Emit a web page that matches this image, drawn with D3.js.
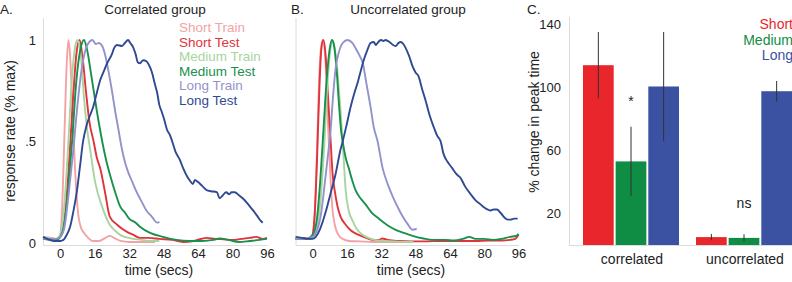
<!DOCTYPE html>
<html>
<head>
<meta charset="utf-8">
<script src="https://cdn.jsdelivr.net/npm/d3@7"></script>
<style>
  html, body { margin: 0; padding: 0; background: #fff; }
  svg text { font-family: "Liberation Sans", Arial, sans-serif; fill: #222; }
</style>
</head>
<body>
<svg id="fig" width="792" height="282"></svg>
<script>
// ---- data: time (secs), normalised response rate
const timeTicks = [0, 16, 32, 48, 64, 80, 96];
const seriesNames = ["Short Train", "Short Test", "Medium Train", "Medium Test", "Long Train", "Long Test"];
const seriesColors = ["#f2a3a3", "#e0333b", "#a9d4a0", "#19904c", "#9393cc", "#2f4a93"];

// Correlated group
const corrShortTrain = [[-8,.03],[-4,.025],[-1,.02],[0,.04],[1,.2],[2,.55],[3,.88],[3.8,1],[4.6,.92],[5.5,.7],[6.5,.45],[7.5,.25],[8.5,.13],[9.5,.08],[11,.05],[13,.025],[15,.01],[18,.01],[21,.025],[23,.035],[25,.025],[28,.01],[32,.005],[38,.005],[44,.005]];
const corrShortTest = [[-8,.02],[-2,.015],[0,.03],[2,.12],[4,.38],[6,.72],[7.5,.93],[9,1],[10.5,.9],[12,.74],[13.5,.6],[15.5,.5],[17,.42],[18.5,.37],[20.8,.25],[23,.13],[26.4,.09],[31,.055],[34,.04],[37,.025],[41,.025],[46,.02],[52,.015],[57,.005],[62,.01],[67.8,.025],[72,.02],[76,.018],[80,.015],[84,.02],[88,.025],[91,.03],[94,.02],[96,.025]];
const corrMediumTrain = [[-8,.03],[-2,.02],[0,.04],[2,.2],[3.8,.5],[5.5,.82],[7,.97],[8,1],[9.5,.93],[11,.72],[12.5,.56],[13.9,.46],[16.2,.3],[19.4,.18],[23,.09],[25.5,.06],[27.8,.04],[30,.03],[33.8,.02],[38,.015],[42,.01],[46,.01]];
const corrMediumTest = [[-8,.02],[-2,.015],[0,.03],[2,.1],[4,.3],[5.5,.5],[7.5,.8],[9.5,.96],[11,1],[12.5,.95],[14.5,.82],[17,.65],[19.5,.5],[21.5,.4],[23,.34],[25.5,.25],[27.8,.18],[30,.15],[32,.12],[35,.1],[37,.08],[41.7,.05],[47.7,.03],[54,.015],[60,.01],[66,.01],[71,.015],[74,.022],[78,.015],[83,.005],[88,.01],[92.6,.015],[96,.02]];
const corrLongTrain = [[-8,.02],[-2,.02],[0,.03],[2,.08],[4,.25],[6,.45],[8,.68],[10,.86],[12,.96],[13.5,.99],[15,1],[16.5,.98],[18,.985],[19.5,.97],[21,.92],[22.5,.84],[24,.75],[25.5,.65],[27,.56],[28.5,.47],[30,.4],[31.5,.35],[33.5,.3],[35.5,.25],[37.5,.21],[40,.16],[42.5,.13],[45,.1],[46,.105]];
const corrLongTest = [[-8,.03],[-6,.02],[-3,.01],[0,.01],[1.5,.015],[3,.04],[4.6,.08],[6,.15],[7.8,.26],[9.2,.38],[10.6,.5],[12,.57],[13.5,.62],[15.3,.67],[17,.74],[18.5,.8],[20,.84],[22,.89],[24,.93],[25,.96],[26.3,.975],[28.7,.97],[30,.985],[31.5,1],[32.5,.985],[33.8,.965],[35,.93],[36,.89],[37,.885],[38.5,.9],[40,.895],[41,.88],[42.6,.84],[44,.78],[45,.74],[46,.68],[47,.65],[48.5,.6],[49.5,.56],[51,.53],[52,.5],[53.5,.45],[55.5,.41],[57,.37],[58.8,.33],[60,.31],[61.6,.29],[62.5,.31],[64,.3],[66,.28],[68,.26],[70,.255],[72.7,.25],[74,.22],[75.5,.235],[77,.25],[78.5,.24],[79.5,.25],[81,.25],[83,.235],[84.7,.22],[86.5,.2],[88.8,.17],[90.3,.15],[91.7,.13],[93,.11],[94,.1]];

// Uncorrelated group
const uncShortTrain = [[-8,.02],[-3,.02],[-1,.025],[0,.04],[1,.15],[2,.45],[3,.8],[4,.97],[4.8,1],[5.6,.95],[6.5,.78],[7.3,.55],[8.4,.3],[9.3,.16],[10.3,.09],[12,.04],[14,.02],[17,.01],[22,.008],[28,.005],[36,.005],[44,.005]];
const uncShortTest = [[-8,.02],[-4,.025],[-1,.02],[0,.04],[1,.15],[2,.4],[3,.72],[4,.95],[5,1],[6,.93],[7,.75],[8.4,.5],[9.3,.34],[10.4,.25],[11.6,.18],[13,.13],[15.4,.09],[18,.06],[21.5,.04],[25,.025],[28,.015],[30.8,.015],[32.5,.022],[35,.015],[40,.01],[46,.008],[52,.008],[60,.01],[68,.01],[76,.01],[82,.012],[88,.012],[92,.015],[94.5,.02],[96,.04]];
const uncMediumTrain = [[-8,.02],[-3,.02],[0,.03],[2,.08],[4,.25],[5.5,.5],[7,.8],[8.5,.97],[9.3,1],[10.3,.96],[11.5,.85],[12.8,.68],[14,.5],[15.4,.26],[16.8,.16],[18.6,.11],[20.5,.07],[23.3,.04],[26,.025],[29,.015],[33,.01],[38,.008],[43,.005],[47,.005]];
const uncMediumTest = [[-8,.02],[-3,.02],[0,.04],[2,.12],[3.5,.3],[5,.55],[6.5,.8],[8,.96],[9,1],[10,.97],[11.2,.85],[12.3,.68],[13.3,.55],[14,.5],[15.4,.42],[16.8,.37],[18.4,.31],[20,.26],[22.3,.22],[24.7,.19],[27.5,.15],[30.8,.12],[34.5,.09],[38.7,.065],[42.5,.05],[46.6,.035],[51.7,.022],[56,.015],[62,.015],[66,.012],[70,.02],[73,.03],[76,.02],[80,.02],[84,.015],[88,.02],[92,.03],[95,.035],[96,.045]];
const uncLongTrain = [[-8,.02],[-3,.02],[0,.03],[2,.06],[4,.15],[5.5,.28],[7,.42],[8.4,.56],[9.5,.72],[10.7,.86],[12,.93],[14,.985],[16.3,1],[18.5,.985],[20.5,.95],[22,.92],[23.3,.89],[25,.79],[27,.67],[28.5,.57],[30.3,.5],[32.6,.37],[35,.29],[37.3,.23],[40,.17],[42,.13],[44.5,.09],[46.6,.065],[48.5,.07]];
const uncLongTest = [[-8,.03],[-5,.025],[-2,.02],[0,.02],[1.4,.03],[3.5,.07],[6,.15],[8.5,.25],[10.7,.34],[13,.46],[14,.5],[15.8,.58],[17.7,.67],[19.5,.74],[21,.79],[22.5,.85],[23.8,.9],[25.5,.95],[27,.985],[28.5,.99],[29.5,.975],[30.3,.985],[31.8,1],[33,.995],[34,1],[35,.995],[36.4,.985],[37.5,.975],[38.7,.97],[40,.985],[41,.99],[42.3,.98],[43.4,.96],[45,.92],[46.6,.87],[48,.84],[49.4,.82],[51,.76],[52.7,.7],[54.5,.63],[56.5,.57],[58,.53],[59.7,.5],[61,.44],[62.9,.4],[65,.37],[67,.34],[69,.32],[71,.28],[73.7,.24],[76,.21],[78.3,.19],[80,.175],[83,.16],[84.5,.165],[86,.165],[87.5,.15],[90,.12],[91,.115],[92.3,.115],[94,.12],[95.6,.12]];

// Panel C: % change in peak time
const groups = ["correlated", "uncorrelated"];
const durations = ["Short", "Medium", "Long"];
const durationColors = ["#e8262b", "#0f8d44", "#3b52a3"];
const peakChange = [[114, 53, 100.5], [5, 4.5, 97.5]];
const peakErr = [[21, 22, 34.5], [2, 2.3, 6.5]];
const barTicks = [20, 60, 100, 140];

const svg = d3.select("#fig");
const axisGray = "#dcdcdc";

function styleAxis(g) {
  g.select(".domain").attr("stroke", axisGray).attr("stroke-width", 1);
  g.selectAll(".tick line").remove();
  g.selectAll(".tick text").attr("font-size", 13).attr("fill", "#222")
    .attr("font-family", "Liberation Sans, Arial, sans-serif");
}

// ---- line panels
function linePanel(opts) {
  const x = d3.scaleLinear().domain([-8, 96]).range(opts.xRange);
  const y = d3.scaleLinear().domain([-0.01, 1.11]).range([245, 17.6]);

  svg.append("g").attr("transform", "translate(0,245)")
    .call(d3.axisBottom(x).tickValues(timeTicks).tickSize(0).tickPadding(4).tickSizeOuter(0))
    .call(styleAxis);

  const yAxis = d3.axisLeft(y).tickSize(0).tickPadding(7).tickSizeOuter(0);
  if (opts.yLabels) yAxis.tickValues([0, 0.5, 1]).tickFormat(d => d === 0.5 ? ".5" : String(d));
  else yAxis.tickValues([]);
  svg.append("g").attr("transform", `translate(${opts.xRange[0]},0)`).call(yAxis).call(styleAxis);

  const line = d3.line().x(d => x(d[0])).y(d => y(d[1])).curve(d3.curveMonotoneX);
  opts.series.forEach((s, i) => {
    svg.append("path").datum(s)
      .attr("fill", "none")
      .attr("stroke", seriesColors[i])
      .attr("stroke-width", 1.9)
      .attr("stroke-linejoin", "round")
      .attr("d", line);
  });

  const mid = (opts.xRange[0] + opts.xRange[1]) / 2;
  svg.append("text").attr("x", mid + 4).attr("y", 275).attr("text-anchor", "middle")
    .attr("font-size", 14).text("time (secs)");
  svg.append("text").attr("x", opts.titleX).attr("y", 14).attr("text-anchor", "middle")
    .attr("font-size", 13.5).text(opts.title);
  svg.append("text").attr("x", opts.letterX).attr("y", 14).attr("font-size", 13.5).text(opts.letter);
}

linePanel({
  xRange: [43, 267], yLabels: true, title: "Correlated group", titleX: 155, letter: "A.", letterX: 0,
  series: [corrShortTrain, corrShortTest, corrMediumTrain, corrMediumTest, corrLongTrain, corrLongTest]
});
linePanel({
  xRange: [295.5, 518.5], yLabels: false, title: "Uncorrelated group", titleX: 408, letter: "B.", letterX: 291,
  series: [uncShortTrain, uncShortTest, uncMediumTrain, uncMediumTest, uncLongTrain, uncLongTest]
});

svg.append("text").attr("transform", "translate(15,131) rotate(-90)").attr("text-anchor", "middle")
  .attr("font-size", 14).text("response rate (% max)");

// legend for A
seriesNames.forEach((n, i) => {
  svg.append("text").attr("x", 179).attr("y", 32 + i * 14.5).attr("font-size", 13.5)
    .style("fill", seriesColors[i]).text(n);
});

// ---- bar panel C
const yC = d3.scaleLinear().domain([0, 145]).range([245, 16.3]);
const x0 = d3.scaleBand().domain(groups).range([574.5, 800.5]);
const x1 = d3.scaleBand().domain(durations).range([8.5, 104.5]).paddingInner(0.06);

svg.append("g").attr("transform", "translate(569,0)")
  .call(d3.axisLeft(yC).tickValues(barTicks).tickSize(0).tickPadding(8).tickSizeOuter(0))
  .call(styleAxis);
svg.append("line").attr("x1", 569).attr("x2", 792).attr("y1", 245.5).attr("y2", 245.5)
  .attr("stroke", axisGray);

groups.forEach((gName, gi) => {
  const gg = svg.append("g").attr("transform", `translate(${x0(gName)},0)`);
  durations.forEach((dName, di) => {
    const v = peakChange[gi][di], e = peakErr[gi][di];
    gg.append("rect")
      .attr("x", x1(dName)).attr("width", x1.bandwidth())
      .attr("y", yC(v)).attr("height", yC(0) - yC(v))
      .attr("fill", durationColors[di]);
    const cx = x1(dName) + x1.bandwidth() / 2;
    gg.append("line").attr("x1", cx).attr("x2", cx)
      .attr("y1", yC(v + e)).attr("y2", yC(Math.max(0, v - e)))
      .attr("stroke", "#333").attr("stroke-width", 1);
  });
  svg.append("text").attr("x", x0(gName) + x0.bandwidth() / 2 + 1).attr("y", 264)
    .attr("text-anchor", "middle").attr("font-size", 14).text(gName);
});

svg.append("text").attr("x", x0("correlated") + x1("Medium") + x1.bandwidth() / 2).attr("y", 106)
  .attr("text-anchor", "middle").attr("font-size", 14).text("*");
svg.append("text").attr("x", x0("uncorrelated") + x0.bandwidth() / 2).attr("y", 208)
  .attr("text-anchor", "middle").attr("font-size", 14).text("ns");

durations.forEach((d, i) => {
  svg.append("text").attr("x", 793).attr("y", 29 + i * 15.7).attr("text-anchor", "end")
    .attr("font-size", 14).style("fill", durationColors[i]).text(d);
});

svg.append("text").attr("transform", "translate(539,122) rotate(-90)").attr("text-anchor", "middle")
  .attr("font-size", 14).text("% change in peak time");
svg.append("text").attr("x", 527).attr("y", 14).attr("font-size", 13.5).text("C.");
</script>
</body>
</html>
